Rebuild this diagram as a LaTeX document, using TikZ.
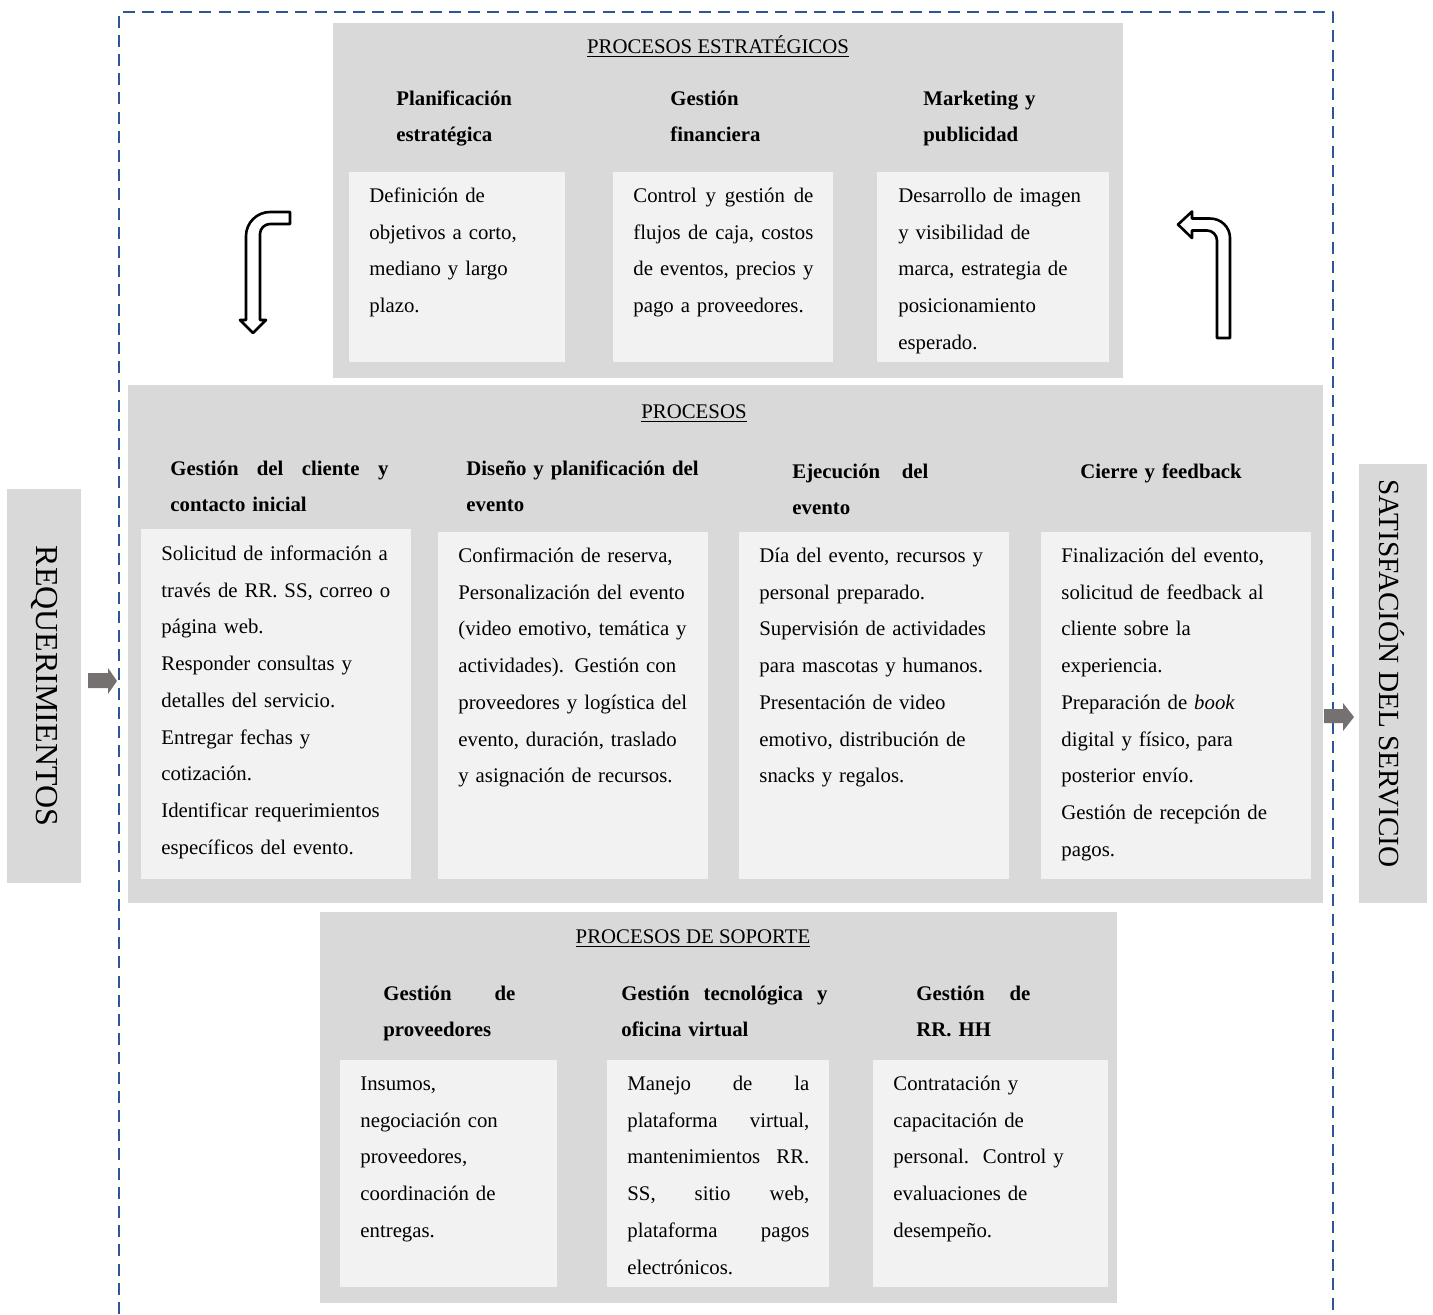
\documentclass[tikz,border=0pt]{standalone}
\usepackage{fontspec}
\setmainfont{Liberation Serif}
\definecolor{panelgray}{HTML}{D9D9D9}
\definecolor{boxwhite}{HTML}{F2F2F2}
\definecolor{frameblue}{HTML}{2F5597}
\definecolor{arrowgray}{HTML}{767171}
\newcommand{\spread}[2]{\leavevmode\hbox to #1{#2}}
\begin{document}
\begin{tikzpicture}[x=0.5pt, y=-0.5pt, line join=round,
  body/.style={anchor=base west, inner sep=0pt, text width=125pt, align=left, font=\fontsize{10.4}{18.35}\selectfont},
  head/.style={body, font=\fontsize{10.4}{18.2}\selectfont\bfseries},
  title/.style={anchor=base, inner sep=0pt, font=\fontsize{10.4}{18.35}\selectfont},
  side/.style={rotate=-90, inner sep=0pt, font=\fontsize{16}{19}\selectfont},
  bent/.style={fill=white, draw=black, line width=1.3pt},
  flow/.style={fill=arrowgray},
  frame/.style={draw=frameblue, line width=1.25pt, dash pattern=on 6pt off 3.6pt}]
  \useasboundingbox (0,0) rectangle (1433,1314);
  % dashed frame
  \draw[frame] (119,1314) -- (119,12) -- (1333,12) -- (1333,1314);
  % gray panels
  \fill[panelgray] (333,23) rectangle (1123,378);
  \fill[panelgray] (128,385) rectangle (1323,903);
  \fill[panelgray] (320,912) rectangle (1117,1303);
  \fill[panelgray] (7,489) rectangle (81,883);
  \fill[panelgray] (1359,464) rectangle (1427,903);
  % white boxes
  \foreach \a/\b/\c/\d in {349/172/565/362, 613/172/833/362, 877/172/1109/362,
    141/529/411/879, 438/532/708/879, 739/532/1009/879, 1041/532/1311/879,
    340/1060/557/1287, 607/1060/829/1287, 873/1060/1108/1287}
  \fill[boxwhite] (\a,\b) rectangle (\c,\d);
  % side labels
  \node[side] (req) at (44,686) {REQUERIMIENTOS};
  \node[side, font=\fontsize{14.6}{18}\selectfont] (sat) at (1392,673.5) {SATISFACIÓN DEL SERVICIO};
  % strategic
  \node[title] (tEstr) at (718,53) {\underline{PROCESOS ESTRATÉGICOS}};
  \node[head] (hE1) at (396,105) {Planificación\\ estratégica};
  \node[head] (hE2) at (670,105) {Gestión\\ financiera};
  \node[head] (hE3) at (923,105) {Marketing y\\ publicidad};
  \node[body] (bE1) at (369,202.5) {Definición de\\ objetivos a corto,\\ mediano y largo\\ plazo.};
  \node[body] (bE2) at (633,202.5) {\spread{90pt}{Control\hfill y\hfill gestión\hfill de}\\ \spread{90pt}{flujos\hfill de\hfill caja,\hfill costos}\\ \spread{90pt}{de\hfill eventos,\hfill precios\hfill y}\\ pago a proveedores.};
  \node[body] (bE3) at (898,202.5) {Desarrollo de imagen\\ y visibilidad de\\ marca, estrategia de\\ posicionamiento\\ esperado.};
  % main processes
  \node[title] (tProc) at (694,418.5) {\underline{PROCESOS}};
  \node[head] (hP1) at (170,475) {\spread{109pt}{Gestión\hfill del\hfill cliente\hfill y}\\ contacto inicial};
  \node[head] (hP2) at (466,475) {Diseño y planificación del\\ evento};
  \node[head] (hP3) at (792,478) {\spread{68pt}{Ejecución\hfill del}\\ evento};
  \node[head] (hP4) at (1080,478) {Cierre y feedback};
  \node[body] (bP1) at (161,560.5) {Solicitud de información a\\ través de RR. SS, correo o\\ página web.\\ Responder consultas y\\ detalles del servicio.\\ Entregar fechas y\\ cotización.\\ Identificar requerimientos\\ específicos del evento.};
  \node[body] (bP2) at (458,562.5) {Confirmación de reserva,\\ Personalización del evento\\ (video emotivo, temática y\\ actividades). Gestión con\\ proveedores y logística del\\ evento, duración, traslado\\ y asignación de recursos.};
  \node[body] (bP3) at (759,562.5) {Día del evento, recursos y\\ personal preparado.\\ Supervisión de actividades\\ para mascotas y humanos.\\ Presentación de video\\ emotivo, distribución de\\ snacks y regalos.};
  \node[body] (bP4) at (1061,562.5) {Finalización del evento,\\ solicitud de feedback al\\ cliente sobre la\\ experiencia.\\ Preparación de \textit{book}\\ digital y físico, para\\ posterior envío.\\ Gestión de recepción de\\ pagos.};
  % support
  \node[title] (tSop) at (693,943.5) {\underline{PROCESOS DE SOPORTE}};
  \node[head] (hS1) at (383,1000) {\spread{66pt}{Gestión\hfill de}\\ proveedores};
  \node[head] (hS2) at (621,1000) {\spread{103pt}{Gestión\hfill tecnológica\hfill y}\\ oficina virtual};
  \node[head] (hS3) at (916,1000) {\spread{57pt}{Gestión\hfill de}\\ RR. HH};
  \node[body] (bS1) at (360,1090.5) {Insumos,\\ negociación con\\ proveedores,\\ coordinación de\\ entregas.};
  \node[body] (bS2) at (627,1090.5) {\spread{91pt}{Manejo\hfill de\hfill la}\\ \spread{91pt}{plataforma\hfill virtual,}\\ \spread{91pt}{mantenimientos\hfill RR.}\\ \spread{91pt}{SS,\hfill sitio\hfill web,}\\ \spread{91pt}{plataforma\hfill pagos}\\ electrónicos.};
  \node[body] (bS3) at (893,1090.5) {Contratación y\\ capacitación de\\ personal.\ \ Control y\\ evaluaciones de\\ desempeño.};
  % bent arrows
  \draw[bent] (290,212) -- (270,212) .. controls (256.8,212) and (246,222.8) .. (246,236) -- (246,320) -- (240,320) -- (253,333) -- (266,320) -- (260,320) -- (260,234) .. controls (260,228.5) and (264.5,224) .. (270,224) -- (290,224) -- cycle;
  \draw[bent] (1217,338) -- (1230,338) -- (1230,238) .. controls (1230,227) and (1221,218.5) .. (1210,218.5) -- (1192,218.5) -- (1192,211.5) -- (1178,224.5) -- (1192,238) -- (1192,230.5) -- (1207,230.5) .. controls (1212.5,230.5) and (1217,235) .. (1217,240.5) -- cycle;
  % input/output arrows
  \fill[flow] (88,673) -- (108,673) -- (108,668) -- (117,681) -- (108,694) -- (108,688) -- (88,688) -- cycle;
  \fill[flow] (1324,709) -- (1343,709) -- (1343,703) -- (1354,717) -- (1343,731) -- (1343,723) -- (1324,723) -- cycle;
\end{tikzpicture}
\end{document}
